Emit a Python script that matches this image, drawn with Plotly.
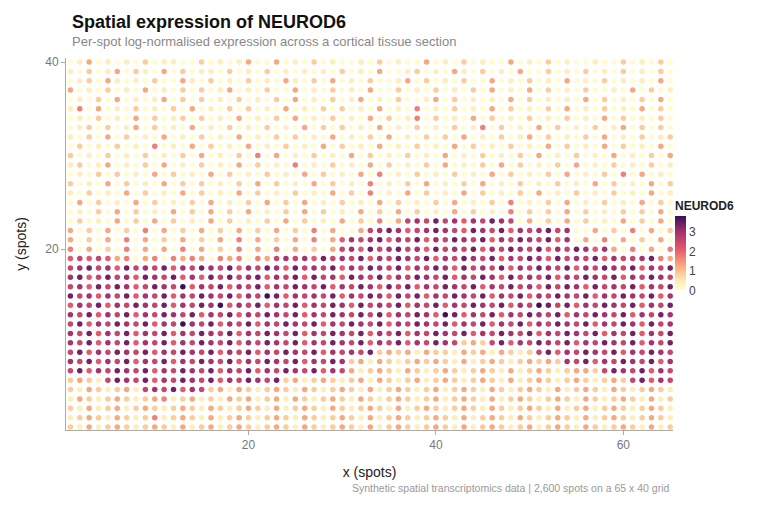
import numpy as np
import plotly.graph_objects as go

# expression level codes per row (top row = y 40), 13 blocks of 5 spots each; value = code * 0.42
rows_top_down = [
    "01301 01020 11002 01013 00301 02010 01020 10030 10201 00301 02010 01002 01020",
    "10201 30210 30201 10201 02010 10102 01030 01201 03102 01030 02010 20102 01020",
    "01203 10102 00310 20102 01031 02030 10200 13020 10200 30102 01030 10201 01030",
    "30102 01030 10202 01301 02003 01020 10300 20102 01020 30103 02010 20010 30201",
    "01020 30101 30202 01020 10203 01020 13010 20013 02010 10302 01010 30201 02030",
    "14030 10201 02030 10202 01030 10202 01030 10401 02010 30201 02030 10201 03020",
    "01020 10302 01202 01030 10203 01020 10302 01402 01030 20102 01020 10302 01020",
    "01202 01302 01030 10201 02010 30202 01030 10201 02014 02010 30201 02013 02020",
    "10203 02010 30102 01030 10202 01030 10203 01020 20301 02013 02010 20301 02012",
    "02010 20104 01030 20103 01020 10302 01030 10201 03020 10201 03020 10302 01030",
    "20102 01020 10203 01020 40301 02010 30201 02010 30102 01020 30102 01030 10203",
    "12013 01020 30102 01030 20104 01020 10302 01020 30102 03020 10203 01020 10201",
    "01020 20103 02010 30201 02010 30201 03040 10201 02010 30201 02030 10204 03010",
    "20103 02010 30202 01020 30201 03020 10401 02030 10203 01020 10201 03020 10302",
    "10201 03020 10302 01030 20102 01030 20401 03020 10302 01020 30102 01020 10301",
    "03020 10302 01020 30102 03020 30102 01030 20102 03010 20401 02030 10201 03020",
    "01020 30201 03020 30203 01020 30201 03020 30201 03020 10402 02030 20102 02030",
    "02010 30203 02010 30201 02030 20103 02040 36768 67576 87603 02030 20103 02030",
    "30203 02040 30203 02030 20302 04030 03678 75678 76587 68576 78670 03020 40302",
    "30203 04030 20302 03040 30203 04035 76785 76857 68768 57687 68570 30403 02030",
    "40302 04030 30403 02040 30403 02036 75867 86758 67685 76876 85768 75730 40304",
    "56565 34034 04343 04340 43676 75867 68576 87685 76876 85768 75867 68576 67843",
    "67867 58676 85768 76857 68758 67685 76876 85768 75867 68576 87685 76876 85768",
    "78568 67587 68575 86867 85768 58675 87685 76876 85768 75867 68576 87685 76876",
    "67586 87568 76957 68576 85768 76857 68758 68576 87685 76867 58687 58676 85768",
    "86757 68576 85768 76857 69857 67685 76875 86857 68768 57685 76876 85768 76857",
    "57685 76876 85768 79576 85768 57687 58676 85768 57687 68576 98685 76876 85768",
    "76857 68576 87685 76857 68768 57687 68685 76875 98576 85768 76857 68768 57687",
    "68576 87685 76976 85768 57687 68576 87685 76876 85768 57685 76876 85768 75867",
    "76857 68576 85768 76857 68768 57687 68576 85768 76857 68768 57687 68576 85768",
    "76857 68576 85768 76857 68768 57687 68576 85768 76232 68576 87685 76876 85768",
    "68576 87685 76876 85768 57687 68576 76823 23132 21323 13212 68576 87685 76876",
    "76857 68576 85768 76857 68768 57687 23132 12323 21312 32123 23276 85768 76857",
    "68576 87685 76876 85768 57687 68576 31232 13212 32123 21312 32123 32687 68576",
    "23216 87685 76876 85768 76823 12321 23132 12312 32123 21312 32123 21232 68576",
    "21321 23167 68576 23132 12321 32123 21312 32123 12321 32123 21312 32132 12321",
    "13212 32123 41231 21323 12313 21232 13212 32123 12321 31232 12321 32123 21312",
    "21312 31232 12321 32123 21312 32132 12321 31232 12321 32123 21312 31232 12321",
    "12321 32124 12321 31232 12321 32123 21312 32123 21312 32132 12321 31232 12321",
    "21312 32123 21312 31232 12321 32123 21312 32123 21312 32123 12321 32123 21312",
]

xs, ys, vals = [], [], []
for i, row in enumerate(rows_top_down):
    codes = row.replace(" ", "")
    y = 40 - i
    for j, c in enumerate(codes):
        xs.append(j + 1)
        ys.append(y)
        vals.append(int(c) * 0.42)

colorscale = [
    [0.0, "#fffdd0"],
    [0.12, "#fdedb8"],
    [0.3, "#fbb47e"],
    [0.55, "#e55a6d"],
    [0.8, "#9e2f6e"],
    [1.0, "#3b0f55"],
]

fig = go.Figure(go.Scatter(
    x=xs, y=ys, mode="markers",
    marker=dict(
        size=5.5, color=vals, colorscale=colorscale, cmin=0, cmax=3.8,
        colorbar=dict(
            title=dict(text="<b>NEUROD6</b>", side="top", font=dict(size=12, color="#222")),
            thickness=11, lenmode="pixels", len=93, ypad=0, xpad=2,
            y=0.5, yanchor="middle", x=1.0, xanchor="left",
            tickvals=[0, 1, 2, 3], outlinewidth=0, ticks="",
            tickfont=dict(size=12, color="#444"),
        ),
    ),
    hovertemplate="x %{x}, y %{y}<br>%{marker.color:.2f}<extra></extra>",
))

fig.update_layout(
    width=745, height=490,
    margin=dict(l=56, r=80, t=50, b=68),
    plot_bgcolor="white", paper_bgcolor="white",
    font=dict(family="Liberation Sans, Arial, sans-serif", color="#333"),
    showlegend=False,
    annotations=[
        dict(text="<b>Spatial expression of NEUROD6</b>", xref="paper", yref="paper",
             x=0, y=1, xshift=4, yshift=24, xanchor="left", yanchor="bottom", showarrow=False,
             font=dict(size=18, color="#111")),
        dict(text="Per-spot log-normalised expression across a cortical tissue section",
             xref="paper", yref="paper", x=0, y=1, xshift=4, yshift=7,
             xanchor="left", yanchor="bottom", showarrow=False,
             font=dict(size=13, color="#888")),
        dict(text="Synthetic spatial transcriptomics data | 2,600 spots on a 65 x 40 grid",
             xref="paper", yref="paper", x=1, y=0, xshift=-2, yshift=-50,
             xanchor="right", yanchor="top", showarrow=False,
             font=dict(size=10.5, color="#999")),
    ],
)
fig.update_xaxes(range=[0.53, 65.3], tickvals=[20, 40, 60], showgrid=False, zeroline=False,
                 showline=True, linecolor="#aaa", linewidth=1, ticks="outside", ticklen=4,
                 tickcolor="#aaa", tickfont=dict(size=12, color="#777"),
                 title=dict(text="x (spots)", font=dict(size=14, color="#222")))
fig.update_yaxes(range=[0.68, 40.43], tickvals=[20, 40], showgrid=False, zeroline=False,
                 showline=True, linecolor="#aaa", linewidth=1, ticks="outside", ticklen=4,
                 tickcolor="#aaa", tickfont=dict(size=12, color="#777"),
                 title=dict(text="y (spots)", font=dict(size=14, color="#222")))

fig.write_html("out.html")
